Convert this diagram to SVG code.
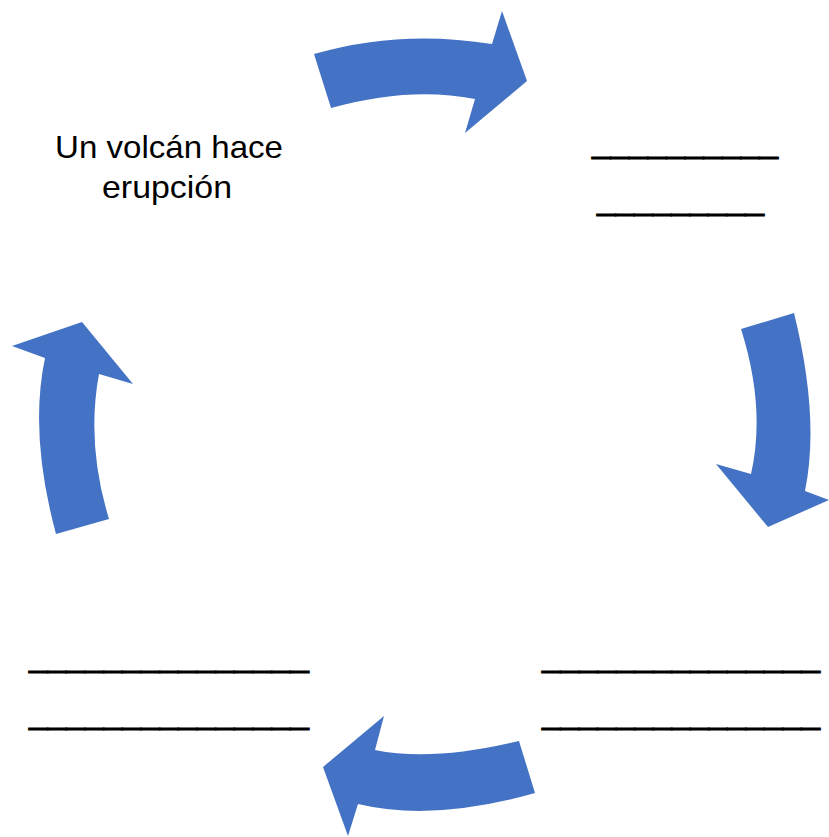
<svg xmlns="http://www.w3.org/2000/svg" width="829" height="837" viewBox="0 0 829 837">
<style>
.lbl{font-family:"Liberation Sans",Arial,sans-serif;font-size:32px;fill:#000;text-anchor:start}
.blank{font-family:"Liberation Sans",Arial,sans-serif;font-size:33px;fill:#000;stroke:#000;stroke-width:0.9;text-anchor:start}
.arr{fill:#4472C4;stroke:none}
</style>
<rect width="829" height="837" fill="#fff"/>
<g id="connectors">
<path class="arr" d="M314,54 Q400,29 492,44 L502,11 L527,81 L465,133 L475,99 Q410,86 331,108 Z"/>
<path class="arr" d="M794,313 Q820,418 805,491 L829,500 L768,527 L716,464 L751,474 Q766,408 741,329 Z"/>
<path class="arr" d="M519,741 Q433,762 375,750 L384,716 L323,767 L348,836 L358,804 Q433,822 535,793 Z"/>
<path class="arr" d="M56,534 Q29,434 45,358 L12,346 L82,322 L133,384 L99,374 Q86,444 109,519 Z"/>
</g>
<g id="node-volcan">
<text class="lbl" x="55" y="158" textLength="228" lengthAdjust="spacingAndGlyphs">Un volcán hace</text>
<text class="lbl" x="102" y="198" textLength="130" lengthAdjust="spacingAndGlyphs">erupción</text>
</g>
<g id="node-top-right">
<text class="blank" x="592" y="152" textLength="186" lengthAdjust="spacingAndGlyphs">__________</text>
<text class="blank" x="597" y="209" textLength="167" lengthAdjust="spacingAndGlyphs">_________</text>
</g>
<g id="node-bottom-right">
<text class="blank" x="542" y="666" textLength="278" lengthAdjust="spacingAndGlyphs">_______________</text>
<text class="blank" x="542" y="723" textLength="278" lengthAdjust="spacingAndGlyphs">_______________</text>
</g>
<g id="node-bottom-left">
<text class="blank" x="29" y="666" textLength="280" lengthAdjust="spacingAndGlyphs">_______________</text>
<text class="blank" x="29" y="723" textLength="280" lengthAdjust="spacingAndGlyphs">_______________</text>
</g>
</svg>
